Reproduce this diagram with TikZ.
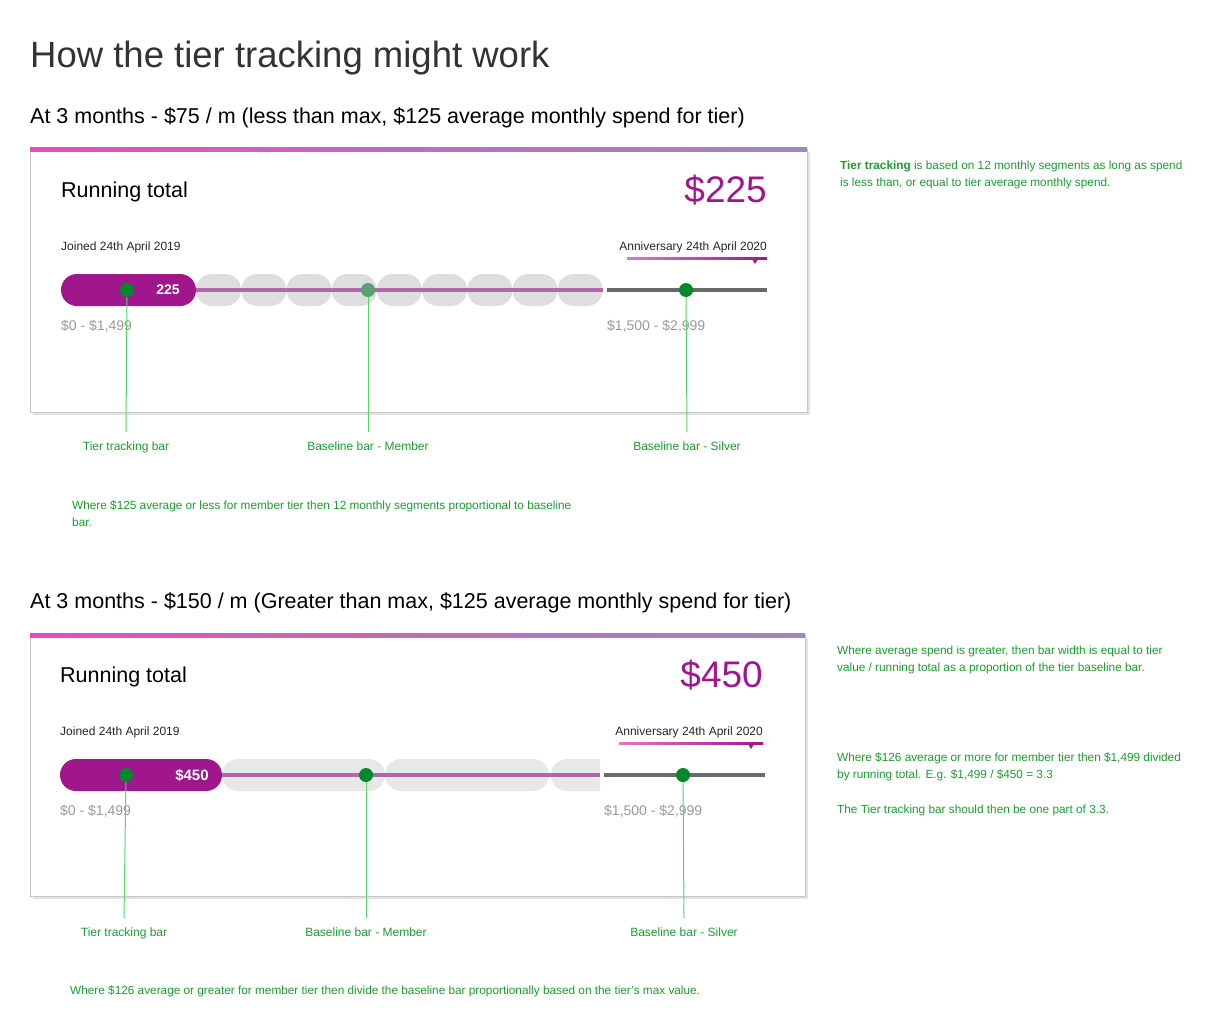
\documentclass[tikz,border=0pt]{standalone}
\usepackage{fontspec}
\setmainfont{Liberation Sans}
\usetikzlibrary{shadows,positioning}

\definecolor{tierpurple}{HTML}{A0168C}
\definecolor{linepurple}{HTML}{B068A8}
\definecolor{bandpink}{HTML}{E050C0}
\definecolor{bandlilac}{HTML}{A088B8}
\definecolor{pillgray}{HTML}{DEDEDE}
\definecolor{pilllight}{HTML}{E8E8E8}
\definecolor{silvergray}{HTML}{6A6A6A}
\definecolor{dotgreen}{HTML}{00882A}
\definecolor{dotpale}{HTML}{5AA070}
\definecolor{leadgreen}{HTML}{55D468}
\definecolor{notegreen}{HTML}{1E9A30}
\definecolor{rangegray}{HTML}{999999}
\definecolor{titlegray}{HTML}{333333}

\begin{document}
\begin{tikzpicture}[x=1pt,y=-1pt,
    card/.style={draw=black!22, fill=white, drop shadow={shadow xshift=3pt, shadow yshift=-3pt, opacity=.22}},
    topband/.style={left color=bandpink, right color=bandlilac, draw=none},
    month/.style={fill=pillgray, rounded corners=16pt},
    spent/.style={fill=tierpurple, rounded corners=16pt},
    track/.style={draw=linepurple, line width=4pt},
    silver/.style={draw=silvergray, line width=4pt},
    dot/.style={circle, fill=dotgreen, inner sep=0pt, minimum size=14pt},
    lead/.style={draw=leadgreen, line width=1pt},
    tag/.style={text=notegreen, anchor=base, inner sep=1pt, outer sep=8pt, font=\fontsize{12}{14}\selectfont},
    note/.style={text=notegreen, align=left, anchor=north west, inner sep=0pt, font=\fontsize{11.8}{17}\selectfont},
    rangetxt/.style={text=rangegray, anchor=base west, inner sep=0pt, font=\fontsize{14}{16}\selectfont},
    small/.style={text=black!85, inner sep=0pt, font=\fontsize{12}{14}\selectfont},
    heading/.style={anchor=base west, inner sep=0pt, font=\fontsize{21.5}{25}\selectfont},
    total/.style={anchor=base east, inner sep=0pt, text=tierpurple, font=\fontsize{37}{42}\selectfont},
]
\useasboundingbox (0,0) rectangle (1216,1036);

% titles
\node[anchor=base west, inner sep=0pt, text=titlegray, font=\fontsize{36.5}{42}\selectfont] (title) at (30,67) {How the tier tracking might work};
\node[heading] (head1) at (30,123) {At 3 months - \$75 / m (less than max, \$125 average monthly spend for tier)};
\node[heading] (head2) at (30,608) {At 3 months - \$150 / m (Greater than max, \$125 average monthly spend for tier)};

% ---- card 1 ----
\path[card] (30,149) rectangle (807,412);
\fill[topband] (30,147) rectangle (807,151);
\node[heading, font=\fontsize{21.5}{24}\selectfont] (rt1) at (61,197) {Running total};
\node[total] (sum1) at (767,202) {\$225};
\node[small, anchor=base west] (join1) at (61,250) {Joined 24th April 2019};
\node[small, anchor=base east] (anniv1) at (767,250) {Anniversary 24th April 2020};
\fill[left color=bandpink!80, right color=tierpurple] (627,257) rectangle (767,259);
\fill[tierpurple] (752,259) -- (758,259) -- (755,264) -- cycle;
\foreach \i in {0,...,8}
    \fill[month] ({196+45.2*\i},274) rectangle +(45.2,32);
\draw[track] (196,290) -- (603,290);
\fill[spent] (61,274) rectangle (196,306);
\node[text=white, font=\fontsize{14}{16}\selectfont\bfseries] (val1) at (168,290) {225};
\draw[silver] (607,290) -- (767,290);
\node[rangetxt] (lo1) at (61,330) {\$0 - \$1,499};
\node[rangetxt] (hi1) at (607,330) {\$1,500 - \$2,999};
\node[dot] (tb1) at (127,290) {};
\node[dot, fill=dotpale] (mb1) at (368,290) {};
\node[dot] (sb1) at (686,290) {};
\node[tag] (tbl1) at (126,450) {Tier tracking bar};
\node[tag] (mbl1) at (368,450) {Baseline bar - Member};
\node[tag] (sbl1) at (687,450) {Baseline bar - Silver};
\draw[lead] (tb1) -- (tbl1.north);
\draw[lead] (mb1) -- (mbl1.north);
\draw[lead] (sb1) -- (sbl1.north);
\node[note] (note1) at (72,501) {Where \$125 average or less for member tier then 12 monthly segments proportional to baseline\\bar.};
\node[note] (side1) at (840,161) {\textbf{Tier tracking} is based on 12 monthly segments as long as spend\\is less than, or equal to tier average monthly spend.};

% ---- card 2 ----
\path[card] (30,635) rectangle (805,896);
\fill[topband] (30,633) rectangle (805,637);
\node[heading, font=\fontsize{21.5}{24}\selectfont] (rt2) at (60,682) {Running total};
\node[total] (sum2) at (763,687) {\$450};
\node[small, anchor=base west] (join2) at (60,735) {Joined 24th April 2019};
\node[small, anchor=base east] (anniv2) at (763,735) {Anniversary 24th April 2020};
\fill[left color=bandpink!80, right color=tierpurple] (619,742) rectangle (763,744);
\fill[tierpurple] (748,744) -- (754,744) -- (751,749) -- cycle;
\fill[month, fill=pilllight] (222,759) rectangle (385,791);
\fill[month, fill=pilllight] (385,759) rectangle (549,791);
\begin{scope}
    \clip (549,750) rectangle (600,800);
    \fill[month, fill=pilllight] (551,759) rectangle (714,791);
\end{scope}
\draw[track] (222,775) -- (600,775);
\fill[spent] (60,759) rectangle (222,791);
\node[text=white, font=\fontsize{15}{17}\selectfont\bfseries] (val2) at (192,775) {\$450};
\draw[silver] (604,775) -- (765,775);
\node[rangetxt] (lo2) at (60,815) {\$0 - \$1,499};
\node[rangetxt] (hi2) at (604,815) {\$1,500 - \$2,999};
\node[dot] (tb2) at (126,775) {};
\node[dot] (mb2) at (366,775) {};
\node[dot] (sb2) at (683,775) {};
\node[tag] (tbl2) at (124,936) {Tier tracking bar};
\node[tag] (mbl2) at (366,936) {Baseline bar - Member};
\node[tag] (sbl2) at (684,936) {Baseline bar - Silver};
\draw[lead] (tb2) -- (tbl2.north);
\draw[lead] (mb2) -- (mbl2.north);
\draw[lead] (sb2) -- (sbl2.north);
\node[note] (note2) at (70,986) {Where \$126 average or greater for member tier then divide the baseline bar proportionally based on the tier's max value.};
\node[note] (side2) at (837,646) {Where average spend is greater, then bar width is equal to tier\\value / running total as a proportion of the tier baseline bar.};
\node[note] (side3) at (837,753) {Where \$126 average or more for member tier then \$1,499 divided\\by running total. E.g. \$1,499 / \$450 = 3.3};
\node[note] (side4) at (837,805) {The Tier tracking bar should then be one part of 3.3.};
\end{tikzpicture}
\end{document}
